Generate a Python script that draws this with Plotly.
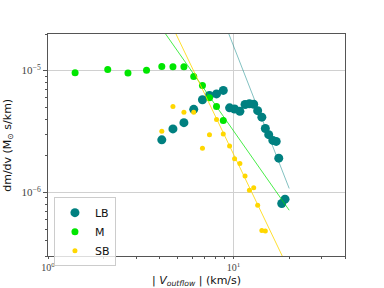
import numpy as np
import plotly.graph_objects as go

# ---- data ----
m_x = [1.40, 2.10, 2.70, 3.40, 4.11, 4.72, 5.41, 6.11, 6.81, 7.43, 8.11, 8.82]
m_y = [9.63e-6, 1.02e-5, 9.57e-6, 1.006e-5, 1.079e-5, 1.075e-5, 1.075e-5,
       8.97e-6, 7.56e-6, 5.99e-6, 5.07e-6, 3.89e-6]

lb_x = [4.11, 4.72, 5.41, 6.11, 6.81, 7.43, 8.11, 8.82, 9.54, 10.15, 10.84, 11.56,
        12.20, 12.87, 13.52, 14.24, 14.87, 15.51, 16.33, 17.02, 17.57, 18.23, 18.99]
lb_y = [2.70e-6, 3.32e-6, 3.74e-6, 4.81e-6, 5.76e-6, 6.25e-6, 6.44e-6, 6.88e-6,
        4.95e-6, 4.84e-6, 4.63e-6, 5.27e-6, 5.35e-6, 5.29e-6, 4.69e-6, 4.15e-6,
        3.35e-6, 2.98e-6, 2.67e-6, 2.62e-6, 1.91e-6, 8.10e-7, 8.79e-7]

sb_x = [4.11, 4.72, 5.41, 6.11, 6.81, 7.43, 8.11, 8.82, 9.54, 10.15, 10.84, 11.56,
        12.20, 12.87, 13.52, 14.24, 14.87]
sb_y = [3.17e-6, 5.07e-6, 4.55e-6, 4.55e-6, 2.30e-6, 2.98e-6, 3.96e-6, 3.02e-6,
        2.40e-6, 1.89e-6, 1.73e-6, 1.36e-6, 1.04e-6, 1.09e-6, 7.84e-7, 4.87e-7, 4.81e-7]

# power-law fits: log10(y) = a + b*log10(x)
fit_names = ["LB", "M", "SB"]
fit_a = [-0.894, -3.321, -2.502]
fit_b = [-3.90, -2.172, -3.182]
fit_xmin = [1.0, 1.0, 1.0]
fit_xmax = [20.0, 20.0, 20.0]

x_ticks = [1, 10]
x_ticktext = ["10<sup>0</sup>", "10<sup>1</sup>"]
y_ticks = [1e-6, 1e-5]
y_ticktext = ["10<sup>−6</sup>", "10<sup>−5</sup>"]

col_lb = "#008080"
col_m = "#00e600"
col_sb = "#ffd700"
fit_cols = ["rgba(0,128,128,0.55)", "rgba(0,230,0,0.8)", "rgba(255,215,0,0.9)"]

fig = go.Figure()
fig.add_trace(go.Scatter(x=lb_x, y=lb_y, mode="markers", name="LB",
                         marker=dict(color=col_lb, size=9)))
fig.add_trace(go.Scatter(x=m_x, y=m_y, mode="markers", name="M",
                         marker=dict(color=col_m, size=7)))
fig.add_trace(go.Scatter(x=sb_x, y=sb_y, mode="markers", name="SB",
                         marker=dict(color=col_sb, size=5)))

for a, b, x0, x1, c in zip(fit_a, fit_b, fit_xmin, fit_xmax, fit_cols):
    xx = np.logspace(np.log10(x0), np.log10(x1), 50)
    yy = 10 ** (a + b * np.log10(xx))
    fig.add_trace(go.Scatter(x=xx, y=yy, mode="lines", showlegend=False,
                             line=dict(color=c, width=0.9), hoverinfo="skip"))

serif = "Liberation Serif, DejaVu Serif, serif"
sans = "DejaVu Sans, sans-serif"

x_minor = [2, 3, 4, 5, 6, 7, 8, 9, 20, 30, 40]
y_minor = [3e-7, 4e-7, 5e-7, 6e-7, 7e-7, 8e-7, 9e-7,
           2e-6, 3e-6, 4e-6, 5e-6, 6e-6, 7e-6, 8e-6, 9e-6, 2e-5]

fig.update_xaxes(type="log", range=[0, np.log10(40)], automargin=False,
                 tickvals=x_ticks, ticktext=x_ticktext,
                 tickfont=dict(family=serif, size=10, color="#444"),
                 ticks="outside", ticklen=2, tickcolor="#555",
                 showgrid=True, gridcolor="#d0d0d0", gridwidth=1,
                 showline=True, linecolor="#555", linewidth=1, mirror=True,
                 zeroline=False,
                 minor=dict(tickvals=x_minor, ticks="outside", ticklen=2,
                            tickcolor="#555", showgrid=False))
fig.update_yaxes(type="log", range=[np.log10(3e-7), np.log10(2e-5)], automargin=False,
                 tickvals=y_ticks, ticktext=y_ticktext,
                 tickfont=dict(family=serif, size=11, color="#444"),
                 ticks="outside", ticklen=4, tickcolor="#555",
                 showgrid=True, gridcolor="#d0d0d0", gridwidth=1,
                 showline=True, linecolor="#555", linewidth=1, mirror=True,
                 zeroline=False,
                 minor=dict(tickvals=y_minor, ticks="outside", ticklen=2,
                            tickcolor="#555", showgrid=False))

fig.add_annotation(text="| <i>V<sub>outflow</sub></i> | (km/s)",
                   xref="paper", yref="paper", x=0.5, y=-0.074,
                   xanchor="center", yanchor="top", showarrow=False,
                   font=dict(family=sans, size=11, color="#111"))
fig.add_annotation(text="dm/dv (M<sub>⊙</sub> s/km)",
                   xref="paper", yref="paper", x=-0.105, y=0.5,
                   xanchor="right", yanchor="middle", textangle=-90,
                   showarrow=False,
                   font=dict(family=sans, size=11, color="#111"))

fig.update_layout(width=384, height=288,
                  margin=dict(l=48, r=39, t=34, b=32),
                  plot_bgcolor="white", paper_bgcolor="white",
                  showlegend=True,
                  legend=dict(x=0.02, y=0.265, xanchor="left", yanchor="top",
                              bgcolor="rgba(255,255,255,0.8)",
                              bordercolor="#cccccc", borderwidth=1,
                              font=dict(family=sans, size=11, color="#111"),
                              tracegroupgap=0, itemwidth=30))

fig.write_html("out.html", post_script="document.body.style.margin='0';",
               config={"displayModeBar": False})
